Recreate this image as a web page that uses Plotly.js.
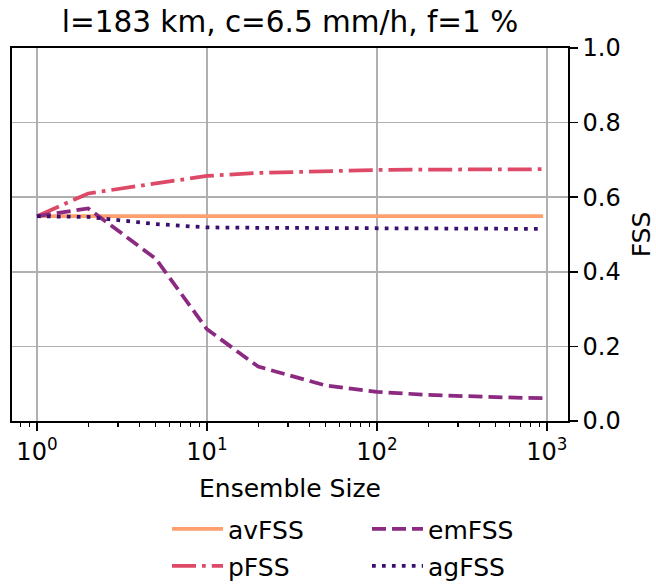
<!DOCTYPE html>
<html>
<head>
<meta charset="utf-8">
<script src="https://cdn.plot.ly/plotly-3.0.1.min.js"></script>
<style>html,body{margin:0;padding:0;background:#fff;}#chart{width:656px;height:584px;}</style>
</head>
<body>
<div id="chart"></div>
<script>
const ensembleSize = [1, 2, 5, 10, 20, 50, 100, 200, 500, 950];
const avFSS = [0.549, 0.549, 0.549, 0.549, 0.549, 0.549, 0.549, 0.549, 0.549, 0.549];
const pFSS  = [0.549, 0.610, 0.637, 0.657, 0.665, 0.670, 0.673, 0.674, 0.675, 0.675];
const emFSS = [0.549, 0.570, 0.435, 0.246, 0.146, 0.095, 0.078, 0.070, 0.064, 0.061];
const agFSS = [0.549, 0.547, 0.528, 0.519, 0.518, 0.517, 0.516, 0.515, 0.515, 0.515];
const xTickVals = [1, 10, 100, 1000];
const xTickText = ['10<sup>0</sup>', '10<sup>1</sup>', '10<sup>2</sup>', '10<sup>3</sup>'];
const yTickVals = [0, 0.2, 0.4, 0.6, 0.8, 1.0];

const FONT = 'DejaVu Sans, sans-serif';
const LW = 3.75;
const traces = [
  {x: ensembleSize, y: avFSS, name: 'avFSS', legend: 'legend',
   line: {color: '#fe9f6d', width: LW}},
  {x: ensembleSize, y: pFSS, name: 'pFSS', legend: 'legend2',
   line: {color: '#de4968', width: LW, dash: '24px,6px,3.75px,6px'}},
  {x: ensembleSize, y: emFSS, name: 'emFSS', legend: 'legend3',
   line: {color: '#8c2981', width: LW, dash: '14px,6px'}},
  {x: ensembleSize, y: agFSS, name: 'agFSS', legend: 'legend4',
   line: {color: '#3b0f70', width: LW, dash: '3.75px,6.2px'}}
].map(t => Object.assign({type: 'scatter', mode: 'lines'}, t));

const legBase = {orientation: 'v', xanchor: 'left', yanchor: 'middle',
  font: {family: FONT, size: 25, color: '#000'}, bgcolor: 'rgba(0,0,0,0)',
  itemwidth: 51};
const ph = 373, pw = 556, ml = 12, mt = 48;
function lx(px) { return (px - ml) / pw; }
function ly(py) { return 1 - (py - mt) / ph; }

const layout = {
  width: 656, height: 584,
  margin: {l: ml, r: 656 - ml - pw, t: mt, b: 584 - mt - ph, autoexpand: false},
  paper_bgcolor: '#fff', plot_bgcolor: '#fff',
  font: {family: FONT, size: 24, color: '#000'},
  title: {text: 'l=183 km, c=6.5 mm/h, f=1 %', x: (ml + pw / 2) / 656, xanchor: 'center',
          y: 1 - 22 / 584, yanchor: 'middle', font: {family: FONT, size: 29.5, color: '#000'}},
  showlegend: true,
  xaxis: {
    type: 'log', range: [Math.log10(0.713), Math.log10(1330)],
    tickvals: xTickVals, ticktext: xTickText,
    ticks: 'outside', ticklen: 8, tickwidth: 1.6, tickcolor: '#000',
    showgrid: true, gridcolor: '#b0b0b0', gridwidth: 1.6,
    showline: true, linecolor: '#000', linewidth: 1.8, mirror: true,
    zeroline: false,
    tickfont: {family: FONT, size: 24, color: '#000'},
    minor: {ticks: 'outside', ticklen: 4.5, tickwidth: 1.2, tickcolor: '#000', dtick: 'D1', showgrid: false},
    title: {text: 'Ensemble Size', standoff: 15, font: {family: FONT, size: 25, color: '#000'}}
  },
  yaxis: {
    side: 'right', range: [0, 1],
    tickvals: yTickVals, tickformat: '.1f',
    ticks: 'outside', ticklen: 8, tickwidth: 1.6, tickcolor: '#000',
    showgrid: true, gridcolor: '#b0b0b0', gridwidth: 1.6,
    showline: true, linecolor: '#000', linewidth: 1.8, mirror: true,
    zeroline: false,
    tickfont: {family: FONT, size: 24, color: '#000'},
    title: {text: 'FSS', standoff: 14, font: {family: FONT, size: 25, color: '#000'}}
  },
  legend:  Object.assign({}, legBase, {x: lx(167), y: ly(529)}),
  legend2: Object.assign({}, legBase, {x: lx(167), y: ly(566)}),
  legend3: Object.assign({}, legBase, {x: lx(367), y: ly(529)}),
  legend4: Object.assign({}, legBase, {x: lx(367), y: ly(566)})
};

Plotly.newPlot('chart', traces, layout, {displayModeBar: false, staticPlot: true});
</script>
</body>
</html>
